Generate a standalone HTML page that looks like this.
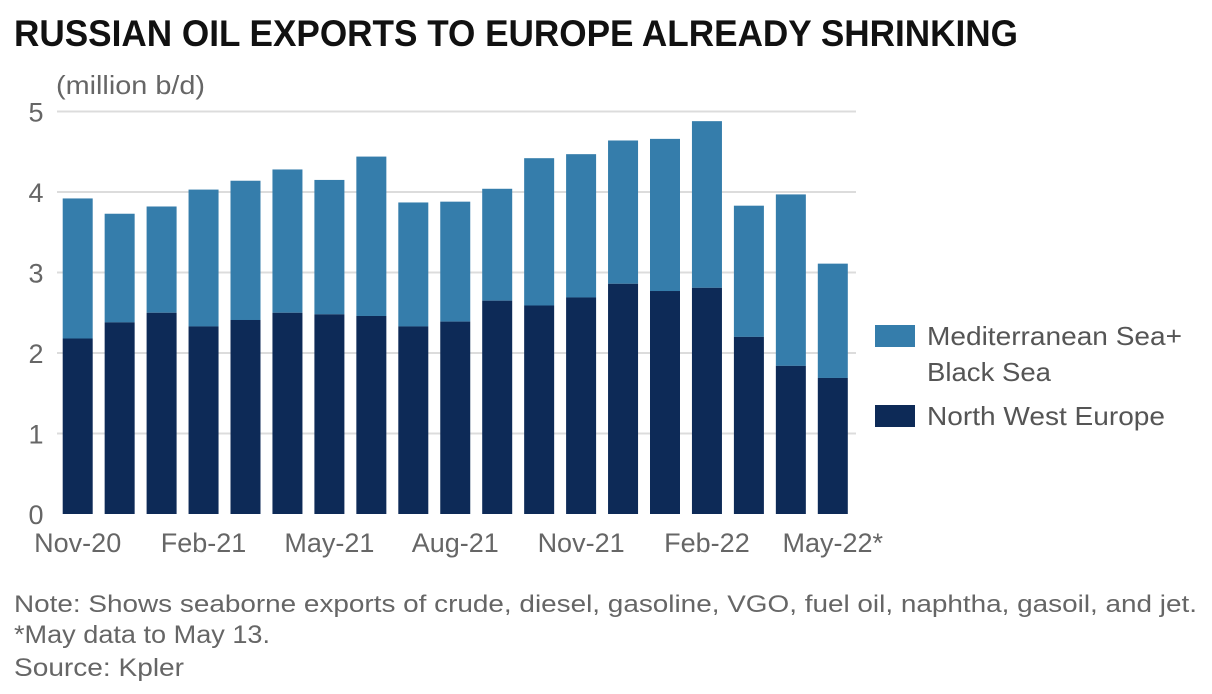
<!DOCTYPE html>
<html><head><meta charset="utf-8"><style>
html,body{margin:0;padding:0;background:#fff;}
svg{display:block;font-family:"Liberation Sans",sans-serif;}
</style></head><body>
<svg id="chart" width="1212" height="694" viewBox="0 0 1212 694">
<text x="14" y="46" font-size="37" font-weight="bold" fill="#111" textLength="1004" lengthAdjust="spacingAndGlyphs">RUSSIAN OIL EXPORTS TO EUROPE ALREADY SHRINKING</text>
<text x="56" y="94" font-size="26" fill="#666" textLength="149" lengthAdjust="spacingAndGlyphs">(million b/d)</text>
<g id="grid"></g>
<g id="bars"></g>
<g id="xlabels"></g>
<rect x="875" y="325" width="40" height="22" fill="#357dab"/>
<text x="927" y="345" font-size="26" fill="#555" textLength="255" lengthAdjust="spacingAndGlyphs">Mediterranean Sea+</text>
<text x="927" y="381" font-size="26" fill="#555" textLength="124" lengthAdjust="spacingAndGlyphs">Black Sea</text>
<rect x="875" y="405" width="40" height="22" fill="#0d2a57"/>
<text x="927" y="425" font-size="26" fill="#555" textLength="238" lengthAdjust="spacingAndGlyphs">North West Europe</text>
<text x="14" y="612" font-size="24" fill="#666" textLength="1183" lengthAdjust="spacingAndGlyphs">Note: Shows seaborne exports of crude, diesel, gasoline, VGO, fuel oil, naphtha, gasoil, and jet.</text>
<text x="14" y="643" font-size="25" fill="#666" textLength="256" lengthAdjust="spacingAndGlyphs">*May data to May 13.</text>
<text x="14" y="676" font-size="25" fill="#666" textLength="170" lengthAdjust="spacingAndGlyphs">Source: Kpler</text>
</svg>
<script>
const categories=["Nov-20","Dec-20","Jan-21","Feb-21","Mar-21","Apr-21","May-21","Jun-21","Jul-21","Aug-21","Sep-21","Oct-21","Nov-21","Dec-21","Jan-22","Feb-22","Mar-22","Apr-22","May-22*"];
const nweValues=[2.18,2.38,2.50,2.33,2.41,2.50,2.48,2.46,2.33,2.39,2.65,2.59,2.69,2.86,2.77,2.81,2.20,1.84,1.69];
const totalValues=[3.92,3.73,3.82,4.03,4.14,4.28,4.15,4.44,3.87,3.88,4.04,4.42,4.47,4.64,4.66,4.88,3.83,3.97,3.11];
const yTicks=[0,1,2,3,4,5];
const xLabelIdx=[0,3,6,9,12,15,18];
const NS="http://www.w3.org/2000/svg";
const y0=514,yScale=80.5,x0=62.7,step=41.95,bw=30;
const yPos=v=>y0-v*yScale;
const xPos=i=>x0+i*step;
function mk(t,a,p,txt){const e=document.createElementNS(NS,t);for(const k in a)e.setAttribute(k,a[k]);if(txt!==undefined)e.textContent=txt;p.appendChild(e);return e;}
const grid=document.getElementById('grid'),bars=document.getElementById('bars'),xl=document.getElementById('xlabels');
yTicks.forEach(t=>{
 if(t>0){const l=mk('line',{x1:57,x2:856,y1:yPos(t),y2:yPos(t),stroke:'#dcdcdc','stroke-width':2},grid);
 
 }
 const tx=mk('text',{x:36,y:yPos(t)+10,'font-size':27,fill:'#666','text-anchor':'middle'},grid,String(t));
 
 
});
categories.forEach((c,i)=>{
 const x=xPos(i);
 const r1=mk('rect',{x:x,y:yPos(totalValues[i]),width:bw,height:(totalValues[i]-nweValues[i])*yScale,fill:'#357dab'},bars);
 
 
 const r2=mk('rect',{x:x,y:yPos(nweValues[i]),width:bw,height:nweValues[i]*yScale,fill:'#0d2a57'},bars);
 
 
});
xLabelIdx.forEach(i=>{
 const t=mk('text',{x:xPos(i)+bw/2,y:552,'font-size':27,fill:'#666','text-anchor':'middle'},xl,categories[i]);
 
 
});
</script>
</body></html>
